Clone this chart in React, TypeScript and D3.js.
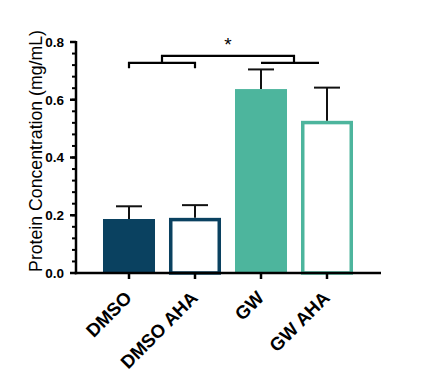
import { useEffect, useRef } from 'react'
import * as d3 from 'd3'

const groups = ['DMSO', 'DMSO AHA', 'GW', 'GW AHA']
const means = [0.187, 0.191, 0.637, 0.527]
const sems = [0.044, 0.044, 0.068, 0.115]
const filled = [true, false, true, false]
const barColors = ['#0a4160', '#0a4160', '#4db59d', '#4db59d']
const yTicks = [0.0, 0.2, 0.4, 0.6, 0.8]

export default function App() {
  const ref = useRef<SVGSVGElement>(null)

  useEffect(() => {
    if (!ref.current) return
    const svg = d3.select(ref.current)
    svg.selectAll('*').remove()

    const width = 426
    const height = 386
    svg.attr('width', width).attr('height', height)

    const y = d3.scaleLinear().domain([0, 0.8]).range([273, 42])
    const x = d3.scaleBand<string>()
      .domain(groups)
      .range([96, 360])
      .paddingInner(0.212)
      .paddingOuter(0.106)
    const cx = (g: string) => (x(g) as number) + x.bandwidth() / 2
    const font = '"Liberation Sans", Arial, sans-serif'

    // bars
    groups.forEach((g, i) => {
      const sw = 3.5
      if (filled[i]) {
        svg.append('rect')
          .attr('x', x(g) as number)
          .attr('y', y(means[i]))
          .attr('width', x.bandwidth())
          .attr('height', y(0) - y(means[i]))
          .attr('fill', barColors[i])
      } else {
        svg.append('rect')
          .attr('x', (x(g) as number) + sw / 2)
          .attr('y', y(means[i]) + sw / 2)
          .attr('width', x.bandwidth() - sw)
          .attr('height', y(0) - y(means[i]) - sw / 2)
          .attr('fill', 'white')
          .attr('stroke', barColors[i])
          .attr('stroke-width', sw)
      }
      // error bar (upper only)
      const top = y(means[i] + sems[i])
      svg.append('line')
        .attr('x1', cx(g)).attr('x2', cx(g))
        .attr('y1', y(means[i])).attr('y2', top)
        .attr('stroke', '#111').attr('stroke-width', 2)
      svg.append('line')
        .attr('x1', cx(g) - 13).attr('x2', cx(g) + 13)
        .attr('y1', top).attr('y2', top)
        .attr('stroke', '#111').attr('stroke-width', 2)
    })

    // y axis with minor ticks
    const ax = 76
    const minor = d3.range(0, 0.8001, 0.04)
    minor.forEach(v => {
      svg.append('line')
        .attr('x1', ax - 4).attr('x2', ax)
        .attr('y1', y(v)).attr('y2', y(v))
        .attr('stroke', '#000').attr('stroke-width', 2)
    })
    yTicks.forEach(v => {
      svg.append('line')
        .attr('x1', ax - 6).attr('x2', ax)
        .attr('y1', y(v)).attr('y2', y(v))
        .attr('stroke', '#000').attr('stroke-width', 2.5)
      svg.append('text')
        .attr('x', ax - 12)
        .attr('y', y(v))
        .attr('dy', '0.36em')
        .attr('text-anchor', 'end')
        .style('font-family', font)
        .style('font-weight', 'bold')
        .style('font-size', '13.5px')
        .text(v.toFixed(1))
    })
    svg.append('line')
      .attr('x1', ax).attr('x2', ax)
      .attr('y1', y(0.8) - 1).attr('y2', y(0) + 1.25)
      .attr('stroke', '#000').attr('stroke-width', 2.5)

    // x axis
    svg.append('line')
      .attr('x1', ax - 1.25).attr('x2', 381)
      .attr('y1', y(0)).attr('y2', y(0))
      .attr('stroke', '#000').attr('stroke-width', 2.5)
    groups.forEach(g => {
      svg.append('line')
        .attr('x1', cx(g)).attr('x2', cx(g))
        .attr('y1', y(0)).attr('y2', y(0) + 6)
        .attr('stroke', '#000').attr('stroke-width', 2.5)
      svg.append('text')
        .attr('transform', `translate(${cx(g) + 4},${y(0) + 26}) rotate(-45)`)
        .attr('text-anchor', 'end')
        .style('font-family', font)
        .style('font-weight', 'bold')
        .style('font-size', '18.5px')
        .text(g)
    })

    // y label
    svg.append('text')
      .attr('transform', `translate(42,151) rotate(-90)`)
      .attr('text-anchor', 'middle')
      .style('font-family', font)
      .style('font-size', '17.7px')
      .text('Protein Concentration (mg/mL)')

    // significance brackets
    const bw = 2.2
    const lowY = y(0.728)
    const tickY = y(0.709)
    const highY = y(0.752)
    const leftMid = (cx(groups[0]) + cx(groups[1])) / 2
    const rightMid = (cx(groups[2]) + cx(groups[3])) / 2
    const br = d3.line<[number, number]>()
    svg.append('path')
      .attr('d', br([[cx(groups[0]), tickY], [cx(groups[0]), lowY], [cx(groups[1]), lowY], [cx(groups[1]), tickY]]))
      .attr('fill', 'none').attr('stroke', '#000').attr('stroke-width', bw)
    svg.append('path')
      .attr('d', br([[cx(groups[2]), lowY], [cx(groups[3]) - 8, lowY]]))
      .attr('fill', 'none').attr('stroke', '#000').attr('stroke-width', bw)
    svg.append('path')
      .attr('d', br([[leftMid, lowY], [leftMid, highY], [rightMid, highY], [rightMid, lowY]]))
      .attr('fill', 'none').attr('stroke', '#000').attr('stroke-width', bw)
    svg.append('text')
      .attr('x', (leftMid + rightMid) / 2)
      .attr('y', y(0.8) + 9)
      .attr('text-anchor', 'middle')
      .style('font-family', font)
      .style('font-size', '19px')
      .text('*')
  }, [])

  return (
    <div style={{ position: 'absolute', left: 0, top: 0 }}>
      <svg ref={ref}></svg>
    </div>
  )
}
